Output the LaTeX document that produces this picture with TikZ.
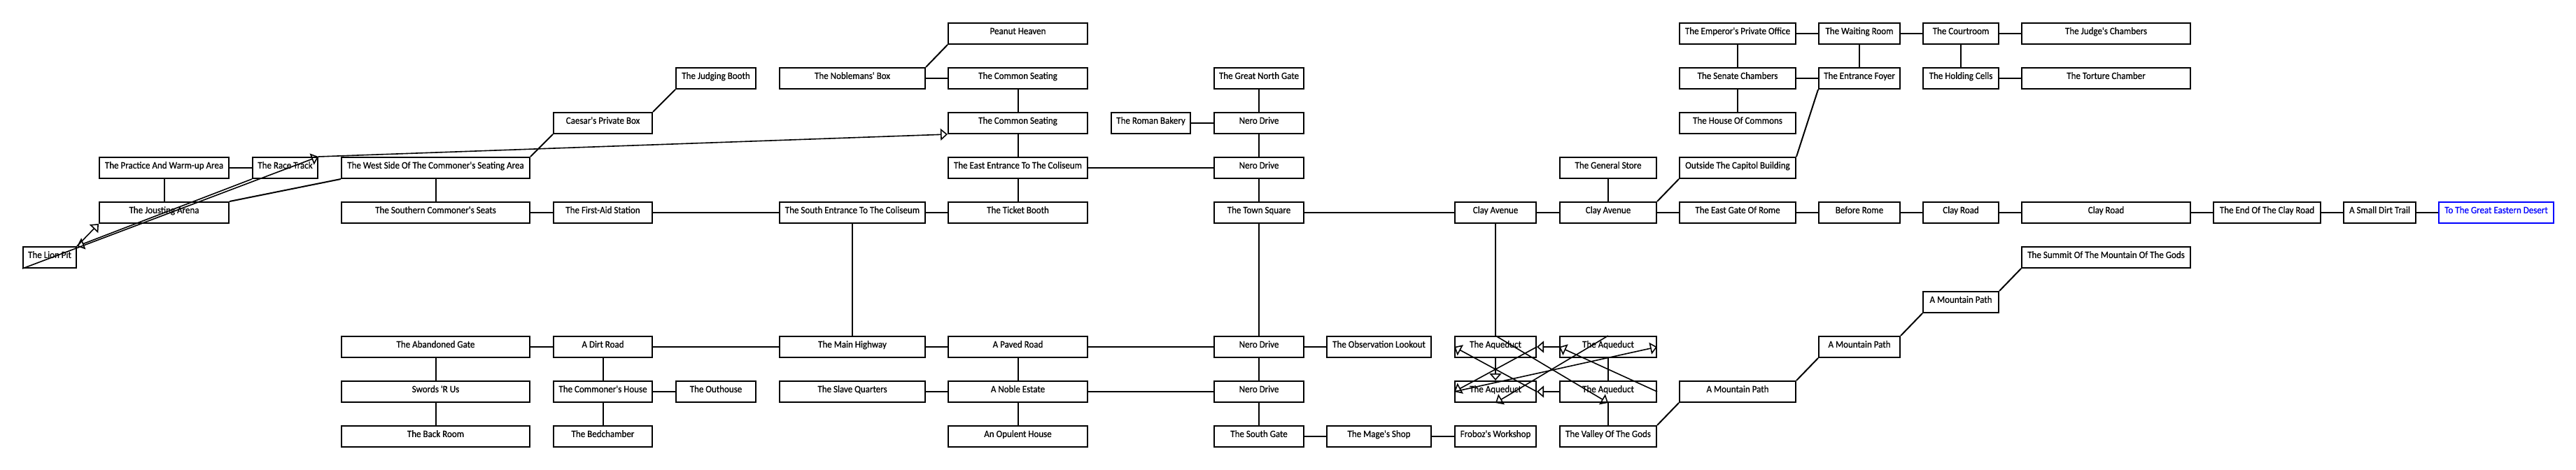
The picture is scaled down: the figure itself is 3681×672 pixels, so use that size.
\documentclass[tikz,border=0pt]{standalone}
\usepackage{fontspec}
\setmainfont{Carlito}
\newfontfamily\roomfont{Carlito}[FakeBold=0.5, FakeStretch=0.93]
\usetikzlibrary{arrows.meta}
\begin{document}
\begin{tikzpicture}[x=1bp,y=-1bp,
  room/.style={draw, line width=2bp, minimum height=30bp, inner sep=0pt,
    text height=9.5bp, text depth=7.6bp, font=\roomfont\fontsize{14bp}{16bp}\selectfont},
  exitroom/.style={draw=exitblue, text=exitblue},
  link/.style={line width=2bp},
  oneway/.style={line width=1.6bp, -{Triangle[open,length=10bp,width=17bp]}},
  k0/.style={minimum width=76bp}, k1/.style={minimum width=185bp},
  k2/.style={minimum width=93bp}, k3/.style={minimum width=269bp},
  k4/.style={minimum width=141bp}, k5/.style={minimum width=114bp},
  k6/.style={minimum width=208bp}, k7/.style={minimum width=199bp},
  k8/.style={minimum width=113bp}, k9/.style={minimum width=128bp},
  k10/.style={minimum width=149bp}, k11/.style={minimum width=116bp},
  k12/.style={minimum width=138bp}, k13/.style={minimum width=166bp},
  k14/.style={minimum width=116bp}, k15/.style={minimum width=108bp},
  k16/.style={minimum width=241bp}, k17/.style={minimum width=153bp},
  k18/.style={minimum width=103bp}, k19/.style={minimum width=164bp}]
\definecolor{exitblue}{RGB}{0,0,255}
\fill[white] (0,0) rectangle (3681,672);
\useasboundingbox (0,0) rectangle (3681,672);
% row 0
\node[room,k7] (peanut) at (1454.5,48) {Peanut Heaven};
\node[room,k13] (emperor) at (2483,48) {The Emperor's Private Office};
\node[room,k14] (waiting) at (2657,48) {The Waiting Room};
\node[room,k15] (courtroom) at (2802,48) {The Courtroom};
\node[room,k16] (judges) at (3009.5,48) {The Judge's Chambers};
% row 1
\node[room,k5] (judging) at (1023,112) {The Judging Booth};
\node[room,k6] (noblemans) at (1218,112) {The Noblemans' Box};
\node[room,k7] (cs1) at (1454.5,112) {The Common Seating};
\node[room,k9] (northgate) at (1799,112) {The Great North Gate};
\node[room,k13] (senate) at (2483,112) {The Senate Chambers};
\node[room,k14] (foyer) at (2657,112) {The Entrance Foyer};
\node[room,k15] (holding) at (2802,112) {The Holding Cells};
\node[room,k16] (torture) at (3009.5,112) {The Torture Chamber};
% row 2
\node[room,k4] (caesar) at (861.5,176) {Caesar's Private Box};
\node[room,k7] (cs2) at (1454.5,176) {The Common Seating};
\node[room,k8] (bakery) at (1644.5,176) {The Roman Bakery};
\node[room,k9] (nero1) at (1799,176) {Nero Drive};
\node[room,k13] (commons) at (2483,176) {The House Of Commons};
% row 3
\node[room,k1] (practice) at (234.5,240) {The Practice And Warm-up Area};
\node[room,k2] (racetrack) at (407.5,240) {The Race Track};
\node[room,k3] (westside) at (622.5,240) {The West Side Of The Commoner's Seating Area};
\node[room,k7] (eastentr) at (1454.5,240) {The East Entrance To The Coliseum};
\node[room,k9] (nero2) at (1799,240) {Nero Drive};
\node[room,k12] (genstore) at (2298,240) {The General Store};
\node[room,k13] (capitol) at (2483,240) {Outside The Capitol Building};
% row 4
\node[room,k1] (jousting) at (234.5,304) {The Jousting Arena};
\node[room,k3] (southern) at (622.5,304) {The Southern Commoner's Seats};
\node[room,k4] (firstaid) at (861.5,304) {The First-Aid Station};
\node[room,k6] (southentr) at (1218,304) {The South Entrance To The Coliseum};
\node[room,k7] (ticket) at (1454.5,304) {The Ticket Booth};
\node[room,k9] (townsq) at (1799,304) {The Town Square};
\node[room,k11] (clay1) at (2137,304) {Clay Avenue};
\node[room,k12] (clay2) at (2298,304) {Clay Avenue};
\node[room,k13] (eastgate) at (2483,304) {The East Gate Of Rome};
\node[room,k14] (beforerome) at (2657,304) {Before Rome};
\node[room,k15] (clayroad1) at (2802,304) {Clay Road};
\node[room,k16] (clayroad2) at (3009.5,304) {Clay Road};
\node[room,k17] (endroad) at (3239.5,304) {The End Of The Clay Road};
\node[room,k18] (dirttrail) at (3400.5,304) {A Small Dirt Trail};
\node[room,k19,exitroom] (desert) at (3567,304) {To The Great Eastern Desert};
% row 5
\node[room,k0] (lionpit) at (71,368) {The Lion Pit};
\node[room,k16] (summit) at (3009.5,368) {The Summit Of The Mountain Of The Gods};
% row 6
\node[room,k15] (mp3) at (2802,432) {A Mountain Path};
% row 7
\node[room,k3] (abandoned) at (622.5,496) {The Abandoned Gate};
\node[room,k4] (dirtroad) at (861.5,496) {A Dirt Road};
\node[room,k6] (highway) at (1218,496) {The Main Highway};
\node[room,k7] (paved) at (1454.5,496) {A Paved Road};
\node[room,k9] (nero3) at (1799,496) {Nero Drive};
\node[room,k10] (lookout) at (1970.5,496) {The Observation Lookout};
\node[room,k11] (aqA) at (2137,496) {The Aqueduct};
\node[room,k12] (aqB) at (2298,496) {The Aqueduct};
\node[room,k14] (mp2) at (2657,496) {A Mountain Path};
% row 8
\node[room,k3] (swords) at (622.5,560) {Swords 'R Us};
\node[room,k4] (chouse) at (861.5,560) {The Commoner's House};
\node[room,k5] (outhouse) at (1023,560) {The Outhouse};
\node[room,k6] (slaveq) at (1218,560) {The Slave Quarters};
\node[room,k7] (noble) at (1454.5,560) {A Noble Estate};
\node[room,k9] (nero4) at (1799,560) {Nero Drive};
\node[room,k11] (aqC) at (2137,560) {The Aqueduct};
\node[room,k12] (aqD) at (2298,560) {The Aqueduct};
\node[room,k13] (mp1) at (2483,560) {A Mountain Path};
% row 9
\node[room,k3] (backroom) at (622.5,624) {The Back Room};
\node[room,k4] (bedchamber) at (861.5,624) {The Bedchamber};
\node[room,k7] (opulent) at (1454.5,624) {An Opulent House};
\node[room,k9] (southgate) at (1799,624) {The South Gate};
\node[room,k10] (mage) at (1970.5,624) {The Mage's Shop};
\node[room,k11] (froboz) at (2137,624) {Froboz's Workshop};
\node[room,k12] (valley) at (2298,624) {The Valley Of The Gods};

% two-way connections
\draw[link] (emperor.east) -- (waiting.west);
\draw[link] (waiting.east) -- (courtroom.west);
\draw[link] (courtroom.east) -- (judges.west);
\draw[link] (emperor.south) -- (senate.north);
\draw[link] (waiting.south) -- (foyer.north);
\draw[link] (courtroom.south) -- (holding.north);
\draw[link] (senate.south) -- (commons.north);
\draw[link] (senate.east) -- (foyer.west);
\draw[link] (holding.east) -- (torture.west);
\draw[link] (noblemans.east) -- (cs1.west);
\draw[link] (noblemans.north east) -- (peanut.south west);
\draw[link] (judging.south west) -- (caesar.north east);
\draw[link] (caesar.south west) -- (westside.north east);
\draw[link] (cs1.south) -- (cs2.north);
\draw[link] (cs2.south) -- (eastentr.north);
\draw[link] (eastentr.south) -- (ticket.north);
\draw[link] (eastentr.east) -- (nero2.west);
\draw[link] (bakery.east) -- (nero1.west);
\draw[link] (northgate.south) -- (nero1.north);
\draw[link] (nero1.south) -- (nero2.north);
\draw[link] (nero2.south) -- (townsq.north);
\draw[link] (townsq.east) -- (clay1.west);
\draw[link] (clay1.east) -- (clay2.west);
\draw[link] (genstore.south) -- (clay2.north);
\draw[link] (clay2.north east) -- (capitol.south west);
\draw[link] (capitol.north east) -- (foyer.south west);
\draw[link] (clay2.east) -- (eastgate.west);
\draw[link] (eastgate.east) -- (beforerome.west);
\draw[link] (beforerome.east) -- (clayroad1.west);
\draw[link] (clayroad1.east) -- (clayroad2.west);
\draw[link] (clayroad2.east) -- (endroad.west);
\draw[link] (endroad.east) -- (dirttrail.west);
\draw[link] (dirttrail.east) -- (desert.west);
\draw[link] (summit.south west) -- (mp3.north east);
\draw[link] (mp3.south west) -- (mp2.north east);
\draw[link] (mp2.south west) -- (mp1.north east);
\draw[link] (mp1.south west) -- (valley.north east);
\draw[link] (practice.east) -- (racetrack.west);
\draw[link] (practice.south) -- (jousting.north);
\draw[link] (westside.south) -- (southern.north);
\draw[link] (westside.south west) -- (jousting.north east);
\draw[link] (southern.east) -- (firstaid.west);
\draw[link] (firstaid.east) -- (southentr.west);
\draw[link] (southentr.east) -- (ticket.west);
\draw[link] (southentr.south) -- (highway.north);
\draw[link] (townsq.south) -- (nero3.north);
\draw[link] (nero3.east) -- (lookout.west);
\draw[link] (nero3.south) -- (nero4.north);
\draw[link] (nero4.south) -- (southgate.north);
\draw[link] (southgate.east) -- (mage.west);
\draw[link] (mage.east) -- (froboz.west);
\draw[link] (paved.east) -- (nero3.west);
\draw[link] (noble.east) -- (nero4.west);
\draw[link] (abandoned.east) -- (dirtroad.west);
\draw[link] (dirtroad.east) -- (highway.west);
\draw[link] (highway.east) -- (paved.west);
\draw[link] (abandoned.south) -- (swords.north);
\draw[link] (swords.south) -- (backroom.north);
\draw[link] (dirtroad.south) -- (chouse.north);
\draw[link] (chouse.east) -- (outhouse.west);
\draw[link] (chouse.south) -- (bedchamber.north);
\draw[link] (slaveq.east) -- (noble.west);
\draw[link] (paved.south) -- (noble.north);
\draw[link] (noble.south) -- (opulent.north);
\draw[link] (clay1.south) -- (aqA.north);
\draw[link] (aqB.south) -- (aqD.north);
\draw[link] (valley.north) -- (aqD.south);

% one-way connections
\draw[oneway] (racetrack.north east) -- (cs2.south west);
\draw[oneway] (lionpit.south west) -- (racetrack.north east);
\draw[oneway] (racetrack.south west) -- (lionpit.north east);
\draw[oneway] (lionpit.north east) -- (jousting.south west);
\draw[oneway] (aqA.south) -- (aqC.north);
\draw[oneway] (aqA.north) -- (aqD.south);
\draw[oneway] (aqC.east) -- (aqA.west);
\draw[oneway] (aqB.west) -- (aqA.east);
\draw[oneway] (aqA.east) -- (aqC.west);
\draw[oneway] (aqD.west) -- (aqC.east);
\draw[oneway] (aqB.north) -- (aqC.south);
\draw[oneway] (aqC.west) -- (aqB.east);
\draw[oneway] (aqD.east) -- (aqB.west);
\end{tikzpicture}
\end{document}
